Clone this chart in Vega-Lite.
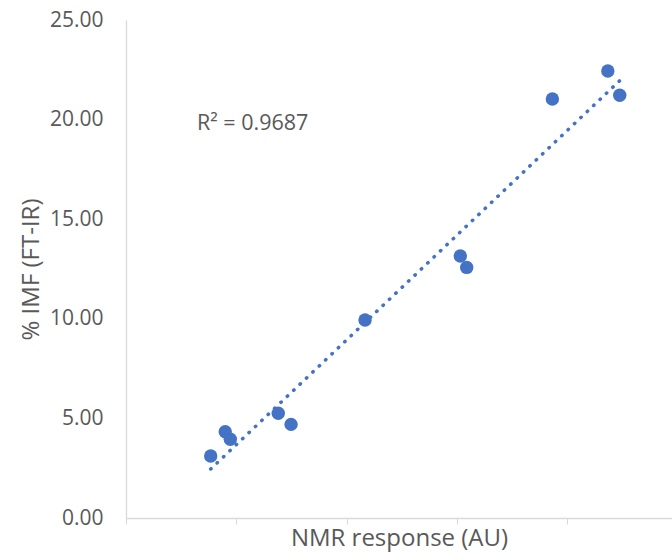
{
  "$schema": "https://vega.github.io/schema/vega-lite/v6.json",
  "autosize": "none",
  "width": 546,
  "height": 498,
  "padding": {"left": 126, "top": 20, "right": 0, "bottom": 41},
  "background": "white",
  "config": {
    "view": {"stroke": null},
    "font": "Open Sans",
    "axis": {"grid": false, "domainColor": "#d9d9d9", "tickColor": "#d9d9d9", "labelColor": "#595959", "titleColor": "#595959", "labelFont": "Open Sans", "titleFont": "Open Sans", "titleFontWeight": "normal", "labelFontSize": 21, "titleFontSize": 24, "domainWidth": 1.3}
  },
  "datasets": {
    "points": [
      {"nmr": 0.768, "imf": 3.11},
      {"nmr": 0.900, "imf": 4.33},
      {"nmr": 0.946, "imf": 3.95},
      {"nmr": 1.381, "imf": 5.26},
      {"nmr": 1.497, "imf": 4.70},
      {"nmr": 2.168, "imf": 9.94},
      {"nmr": 3.032, "imf": 13.15},
      {"nmr": 3.090, "imf": 12.58},
      {"nmr": 3.867, "imf": 21.03},
      {"nmr": 4.370, "imf": 22.44},
      {"nmr": 4.478, "imf": 21.22}
    ],
    "trend": [
      {"nmr": 0.768, "imf": 2.46},
      {"nmr": 4.475, "imf": 21.94}
    ],
    "label": [
      {"nmr": 0.644, "imf": 19.48, "text": "R² = 0.9687"}
    ]
  },
  "layer": [
    {
      "data": {"name": "trend"},
      "mark": {"type": "line", "color": "#4472c4", "strokeWidth": 3.5, "strokeCap": "round", "strokeDash": [0.5, 8.3]},
      "encoding": {
        "x": {"field": "nmr", "type": "quantitative", "scale": {"domain": [0, 4.952], "nice": false, "zero": false},
          "axis": {"values": [0, 1, 2, 3, 4], "labels": false, "ticks": true, "tickSize": 6, "title": "NMR response (AU)", "titlePadding": 2}},
        "y": {"field": "imf", "type": "quantitative", "scale": {"domain": [0, 25], "nice": false},
          "axis": {"values": [0, 5, 10, 15, 20, 25], "format": ".2f", "ticks": false, "labelPadding": 23, "title": "% IMF (FT-IR)", "titlePadding": 6}}
      }
    },
    {
      "data": {"name": "points"},
      "mark": {"type": "circle", "color": "#4472c4", "opacity": 1, "size": 180},
      "encoding": {
        "x": {"field": "nmr", "type": "quantitative"},
        "y": {"field": "imf", "type": "quantitative"}
      }
    },
    {
      "data": {"name": "label"},
      "mark": {"type": "text", "align": "left", "baseline": "alphabetic", "fontSize": 21.5, "color": "#595959", "font": "Open Sans"},
      "encoding": {
        "x": {"field": "nmr", "type": "quantitative"},
        "y": {"field": "imf", "type": "quantitative"},
        "text": {"field": "text"}
      }
    }
  ]
}
